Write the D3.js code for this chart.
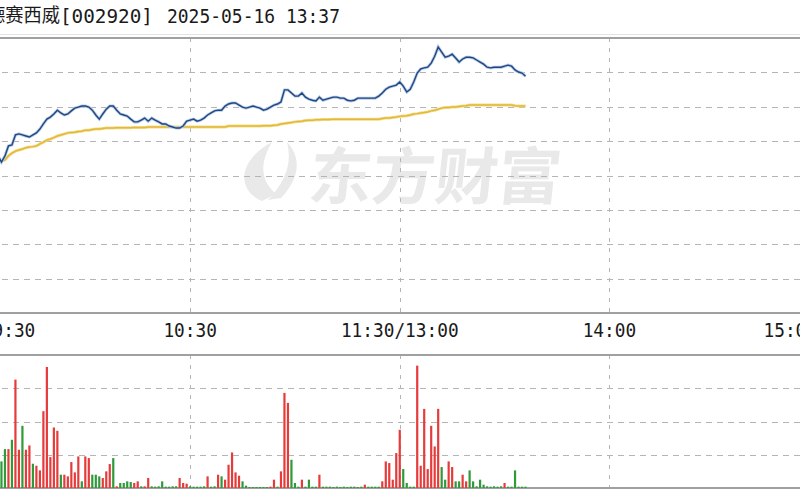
<!DOCTYPE html>
<html><head><meta charset="utf-8">
<script src="https://cdn.jsdelivr.net/npm/d3@7"></script>
<style>body{margin:0;background:#fff}svg{display:block}</style>
</head><body>
<svg id="c" width="800" height="500"></svg>
<script>
// ---- data ----
const stockName = "德赛西威";
const stockCode = "[002920]";
const stamp = "2025-05-16 13:37";
const timeLabels = ["9:30", "10:30", "11:30/13:00", "14:00", "15:00"];
const timeTickIndex = [0, 60, 120, 180, 240];
const watermark = "东方财富";
// price change (%) per minute, from 9:30
const priceChg = [
0.10,0.22,0.33,0.28,0.42,0.57,0.39,0.57,0.86,0.89,
1.18,1.21,1.18,1.15,1.12,1.18,1.24,1.35,1.50,1.64,
1.70,1.79,1.90,1.82,1.76,1.79,1.88,1.96,1.99,2.02,
2.02,1.99,1.90,1.76,1.64,1.79,1.93,2.02,2.02,1.90,
1.79,1.76,1.73,1.64,1.56,1.56,1.61,1.67,1.58,1.67,
1.61,1.56,1.50,1.50,1.44,1.41,1.38,1.38,1.44,1.58,
1.61,1.64,1.58,1.61,1.67,1.76,1.82,1.88,1.90,1.90,
2.02,2.08,2.11,2.11,2.05,1.99,1.96,1.99,2.02,1.99,
1.96,1.90,1.93,1.99,2.05,2.08,2.14,2.49,2.49,2.40,
2.31,2.31,2.40,2.28,2.22,2.19,2.17,2.28,2.19,2.22,
2.25,2.28,2.28,2.25,2.25,2.19,2.17,2.19,2.25,2.25,
2.25,2.25,2.25,2.25,2.31,2.40,2.51,2.57,2.60,2.63,
2.72,2.60,2.43,2.51,2.72,2.98,3.10,3.13,3.15,3.27,
3.47,3.74,3.59,3.44,3.47,3.53,3.42,3.30,3.39,3.44,
3.44,3.42,3.36,3.30,3.24,3.15,3.13,3.15,3.15,3.15,
3.18,3.21,3.18,3.07,3.01,2.98,2.89];
// average price change (%)
const avgChg = [
0.16,0.22,0.28,0.31,0.33,0.36,0.42,0.45,0.57,0.65,
0.71,0.74,0.77,0.81,0.83,0.84,0.86,0.92,0.97,1.03,
1.06,1.10,1.15,1.18,1.21,1.24,1.25,1.26,1.28,1.29,
1.32,1.32,1.34,1.35,1.35,1.37,1.38,1.38,1.38,1.39,
1.39,1.39,1.39,1.39,1.40,1.40,1.40,1.40,1.41,1.41,
1.41,1.41,1.41,1.41,1.41,1.41,1.41,1.41,1.41,1.41,
1.41,1.41,1.41,1.41,1.41,1.41,1.41,1.41,1.41,1.41,
1.41,1.44,1.44,1.44,1.44,1.44,1.44,1.44,1.44,1.44,
1.44,1.45,1.45,1.45,1.46,1.47,1.50,1.51,1.53,1.54,
1.56,1.57,1.58,1.60,1.61,1.61,1.62,1.62,1.63,1.63,
1.63,1.64,1.64,1.64,1.64,1.64,1.64,1.64,1.64,1.64,
1.64,1.64,1.64,1.64,1.64,1.66,1.67,1.67,1.69,1.70,
1.72,1.73,1.74,1.76,1.79,1.80,1.82,1.83,1.85,1.88,
1.90,1.93,1.96,1.98,1.98,1.99,1.99,2.01,2.02,2.03,
2.05,2.05,2.05,2.05,2.05,2.05,2.05,2.05,2.05,2.05,
2.05,2.05,2.05,2.03,2.02,2.02,2.02];
// volume per minute
const volume = [
1.50,1.20,1.00,0.90,1.30,1.00,0.80,1.17,1.17,1.45,
3.26,1.15,1.87,1.15,1.28,0.73,0.67,0.53,2.31,3.64,
0.93,1.82,1.72,0.40,0.40,0.35,0.78,0.47,0.95,0.20,
0.95,0.90,0.40,0.40,0.35,0.30,0.50,0.72,0.90,0.05,
0.15,0.15,0.20,0.18,0.15,0.20,0.05,0.05,0.30,0.05,
0.04,0.05,0.20,0.04,0.04,0.05,0.05,0.30,0.15,0.13,
0.05,0.04,0.04,0.04,0.05,0.35,0.04,0.05,0.40,0.35,
0.25,0.70,1.07,0.47,0.37,0.20,0.07,0.03,0.03,0.03,
0.03,0.03,0.03,0.04,0.25,0.04,0.50,2.86,2.56,0.85,
0.15,0.04,0.25,0.04,0.25,0.04,0.04,0.40,0.04,0.04,
0.04,0.03,0.04,0.03,0.04,0.03,0.04,0.04,0.03,0.04,
0.10,0.04,0.04,0.04,0.04,0.20,0.80,0.75,0.25,1.05,
1.75,0.57,0.15,0.04,0.04,3.68,0.67,2.38,0.57,1.87,
1.25,2.38,0.63,0.25,0.80,0.63,0.20,0.20,0.40,0.20,
0.53,0.20,0.05,0.25,0.10,0.05,0.04,0.05,0.04,0.05,
0.15,0.04,0.04,0.53,0.04,0.04,0.04];
// 1 = up (red), -1 = down (green)
const volDir = [
1,-1,1,-1,1,-1,-1,-1,1,-1,
1,1,-1,1,1,-1,1,1,1,1,
1,1,1,-1,1,1,1,1,1,-1,
1,1,-1,-1,-1,1,1,1,-1,1,
-1,-1,-1,-1,1,1,-1,1,1,-1,
-1,-1,-1,-1,-1,-1,-1,1,1,1,
-1,-1,-1,-1,-1,1,-1,-1,1,-1,
1,1,1,1,1,-1,-1,-1,-1,-1,
-1,-1,-1,1,1,-1,1,1,1,-1,
-1,-1,1,-1,-1,-1,-1,1,-1,-1,
-1,-1,-1,-1,-1,-1,-1,-1,-1,-1,
1,-1,-1,-1,-1,1,1,1,1,1,
1,-1,-1,-1,-1,1,1,1,1,1,
1,1,-1,-1,1,1,-1,-1,1,1,
-1,-1,-1,-1,-1,-1,-1,-1,-1,-1,
1,-1,-1,-1,-1,-1,-1];
const priceGridTicks = [-3,-2,-1,0,1,2,3];
const volGridTicks = [1,2,3];

// ---- drawing ----
const svg = d3.select("#c");
svg.append("rect").attr("width",800).attr("height",500).attr("fill","#fff");

const x = d3.scaleLinear().domain([0,240]).range([-19.5,819]);
const yP = d3.scaleLinear().domain([-4,4]).range([313,38]);
const yV = d3.scaleLinear().domain([0,4]).range([488,355]);

// watermark
const wm = svg.append("g").attr("fill","#e9e9e9");
wm.append("path").attr("d","M262 201 C236 190 238 160 272 142 C258 166 262 182 276 194 Z");
wm.append("path").attr("d","M281 198 C302 176 300 156 287 142 C292 162 287 180 268 200 Z");
wm.append("text").attr("x",308).attr("y",199)
  .attr("font-family","Noto Sans CJK SC").attr("font-weight","bold").attr("font-size",62)
  .attr("textLength",252).attr("lengthAdjust","spacingAndGlyphs")
  .attr("transform","skewX(-6) translate(20,0)")
  .text(watermark);

// grids
const gridCol = "#b5b5b5";
svg.append("g").selectAll("line").data(priceGridTicks).join("line")
  .attr("x1",-20).attr("x2",820).attr("y1",d=>Math.round(yP(d))+0.5).attr("y2",d=>Math.round(yP(d))+0.5)
  .attr("stroke",gridCol).attr("stroke-dasharray","6,5");
svg.append("g").selectAll("line").data(volGridTicks).join("line")
  .attr("x1",-20).attr("x2",820).attr("y1",d=>Math.round(yV(d))+0.5).attr("y2",d=>Math.round(yV(d))+0.5)
  .attr("stroke",gridCol).attr("stroke-dasharray","6,5");
const vIdx = timeTickIndex.slice(1,4);
svg.append("g").selectAll("line").data(vIdx).join("line")
  .attr("x1",d=>Math.round(x(d))+0.5).attr("x2",d=>Math.round(x(d))+0.5)
  .attr("y1",38).attr("y2",313).attr("stroke",gridCol).attr("stroke-dasharray","4,6");
svg.append("g").selectAll("line").data(vIdx).join("line")
  .attr("x1",d=>Math.round(x(d))+0.5).attr("x2",d=>Math.round(x(d))+0.5)
  .attr("y1",355).attr("y2",488).attr("stroke",gridCol).attr("stroke-dasharray","4,6");

// borders
const borderCol = "#a0a0a0";
[38, 313, 355, 488].forEach(yy=>{
  svg.append("line").attr("x1",-20).attr("x2",820).attr("y1",yy).attr("y2",yy)
    .attr("stroke",borderCol).attr("stroke-width",2);
});
svg.append("line").attr("x1",-20).attr("x2",820).attr("y1",34.5).attr("y2",34.5)
  .attr("stroke","#e4e4e4").attr("stroke-width",1);

// volume bars
svg.append("g").selectAll("rect").data(volume).join("rect")
  .attr("x",(d,i)=>x(i)-1.1)
  .attr("width",2.2)
  .attr("y",d=>Math.min(yV(d), 487))
  .attr("height",d=>Math.max(488-yV(d),1))
  .attr("fill",(d,i)=>volDir[i]>0?"#e63b3b":"#2f9a3a");

// lines
const line = d3.line().x((d,i)=>x(i)).y(d=>yP(d));
svg.append("path").datum(avgChg).attr("d",line).attr("fill","none")
  .attr("stroke","#f3dc8a").attr("stroke-width",3);
svg.append("path").datum(avgChg).attr("d",line).attr("fill","none")
  .attr("stroke","#e2b93a").attr("stroke-width",1.5);
svg.append("path").datum(priceChg).attr("d",line).attr("fill","none")
  .attr("stroke","#b3cbe9").attr("stroke-width",3);
svg.append("path").datum(priceChg).attr("d",line).attr("fill","none")
  .attr("stroke","#23467f").attr("stroke-width",1.4);

// time axis labels
const mono = "DejaVu Sans Mono";
svg.append("g").selectAll("text").data(timeLabels).join("text")
  .attr("x",(d,i)=> i===0 ? x(timeTickIndex[i])+12 : (i===4 ? x(timeTickIndex[i])-2 : x(timeTickIndex[i])))
  .attr("y",337)
  .attr("text-anchor",(d,i)=> i===0 ? "start" : (i===4 ? "end" : "middle"))
  .attr("font-family",mono).attr("font-size",19).attr("fill","#1a1a1a")
  .attr("textLength",d=>d.length*10.7).attr("lengthAdjust","spacingAndGlyphs")
  .text(d=>d);

// title
svg.append("text").attr("x",-13).attr("y",22)
  .attr("font-family","Noto Sans CJK SC").attr("font-size",19).attr("fill","#1a1a1a")
  .attr("textLength",73).attr("lengthAdjust","spacingAndGlyphs").text(stockName);
svg.append("text").attr("x",60).attr("y",23)
  .attr("font-family",mono).attr("font-size",19).attr("fill","#1a1a1a")
  .attr("textLength",93).attr("lengthAdjust","spacingAndGlyphs").text(stockCode);
svg.append("text").attr("x",167).attr("y",23)
  .attr("font-family",mono).attr("font-size",19).attr("fill","#1a1a1a")
  .attr("textLength",173).attr("lengthAdjust","spacingAndGlyphs").text(stamp);
</script>
</body></html>
